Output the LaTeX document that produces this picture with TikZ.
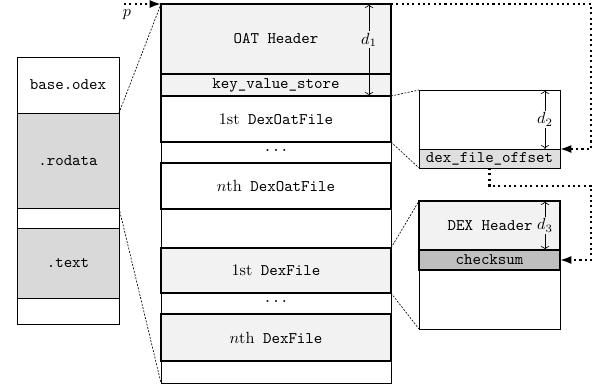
\documentclass[tikz,border=0pt]{standalone}
\usetikzlibrary{arrows.meta, calc}

\def\px{0.618pt}
\newcommand{\nthof}[1]{{\rmfamily $n$th} #1}
\newcommand{\firstof}[1]{{\rmfamily 1st} #1}

\begin{document}
\begin{tikzpicture}[x=0.618pt, y=-0.618pt,
    seg/.style={draw, inner sep=0pt, outer sep=0pt, font=\ttfamily},
    leftcol/.style={seg, minimum width=102*\px},
    midcol/.style={seg, minimum width=230*\px},
    rightcol/.style={seg, minimum width=141*\px},
    zoomline/.style={dash pattern=on 1.2pt off 0.9pt, thin},
    ptr/.style={dotted, line width=1.3pt, -{Latex[length=7pt, width=5pt]}},
    span/.style={<->, thin},
    dlabel/.style={inner sep=1pt}]
    \useasboundingbox (0,0) rectangle (597,387);

    % base.odex sections
    \node[leftcol, minimum height=56*\px] (odex) at (68,85) {base.odex};
    \node[leftcol, minimum height=95*\px, fill=gray!30] (rodata) at (68,160.5) {.rodata};
    \node[leftcol, minimum height=20*\px] (gap1) at (68,218) {};
    \node[leftcol, minimum height=70*\px, fill=gray!30] (text) at (68,263) {.text};
    \node[leftcol, minimum height=26*\px] (gap2) at (68,311) {};

    % oat file layout
    \node[midcol, minimum height=379*\px] (oatfile) at (276,193.5) {};
    \node[midcol, thick, minimum height=70*\px, fill=gray!10] (oathdr) at (276,39) {OAT Header};
    \node[midcol, thick, minimum height=22*\px, fill=gray!10] (kvs) at (276,85) {key\_value\_store};
    \node[midcol, thick, minimum height=46*\px] (dof1) at (276,119) {\firstof{DexOatFile}};
    \node[inner sep=0pt, font=\ttfamily] (dots1) at (276,150) {...};
    \node[midcol, thick, minimum height=46*\px] (dofn) at (276,186) {\nthof{DexOatFile}};
    \node[midcol, thick, minimum height=45*\px, fill=gray!10] (df1) at (276,270.5) {\firstof{DexFile}};
    \node[inner sep=0pt, font=\ttfamily] (dots2) at (276,301) {...};
    \node[midcol, thick, minimum height=47*\px, fill=gray!10] (dfn) at (276,337.5) {\nthof{DexFile}};
    \draw[span] ([xshift=-22*\px]oathdr.north east) -- node[dlabel, fill=gray!10, pos=0.39] {$d_1$} ([xshift=-22*\px]kvs.south east);

    % DexOatFile detail
    \node[rightcol, minimum height=78*\px] (dofbox) at (489.5,129) {};
    \node[rightcol, minimum height=19*\px, fill=gray!25] (dexoff) at (489.5,158.5) {dex\_file\_offset};
    \draw[span] ([xshift=-15*\px]dofbox.north east) -- node[dlabel, fill=white] {$d_2$} ([xshift=-15*\px]dexoff.north east);

    % DexFile detail
    \node[rightcol, minimum height=128*\px] (dfbox) at (489.5,265) {};
    \node[rightcol, thick, minimum height=49*\px, fill=gray!10] (dexhdr) at (489.5,225.5) {};
    \node[inner sep=0pt, anchor=east, font=\ttfamily] (dexhdrtxt) at (533,226) {DEX Header};
    \node[rightcol, thick, minimum height=20*\px, fill=gray!50] (chk) at (489.5,260) {checksum};
    \draw[span] ([xshift=-15*\px]dexhdr.north east) -- node[dlabel, fill=gray!10] {$d_3$} ([xshift=-15*\px]dexhdr.south east);

    % zoom lines
    \draw[zoomline] (rodata.north east) -- (oatfile.north west);
    \draw[zoomline] (rodata.south east) -- (oatfile.south west);
    \draw[zoomline] (dof1.north east) -- (dofbox.north west);
    \draw[zoomline] (dof1.south east) -- (dexoff.south west);
    \draw[zoomline] (df1.north east) -- (dfbox.north west);
    \draw[zoomline] (df1.south east) -- (dfbox.south west);

    % pointers
    \coordinate (pstart) at (124,4);
    \coordinate (r1) at (591,4);
    \coordinate (r2) at (591,186);
    \draw[ptr] (pstart) -- (oatfile.north west);
    \node[inner sep=0pt] (plabel) at (127,15) {$p$};
    \draw[ptr] (oatfile.north east) -- (r1) |- (dexoff.north east);
    \draw[ptr] (dexoff.south) |- (r2) |- (chk.east);
\end{tikzpicture}
\end{document}
